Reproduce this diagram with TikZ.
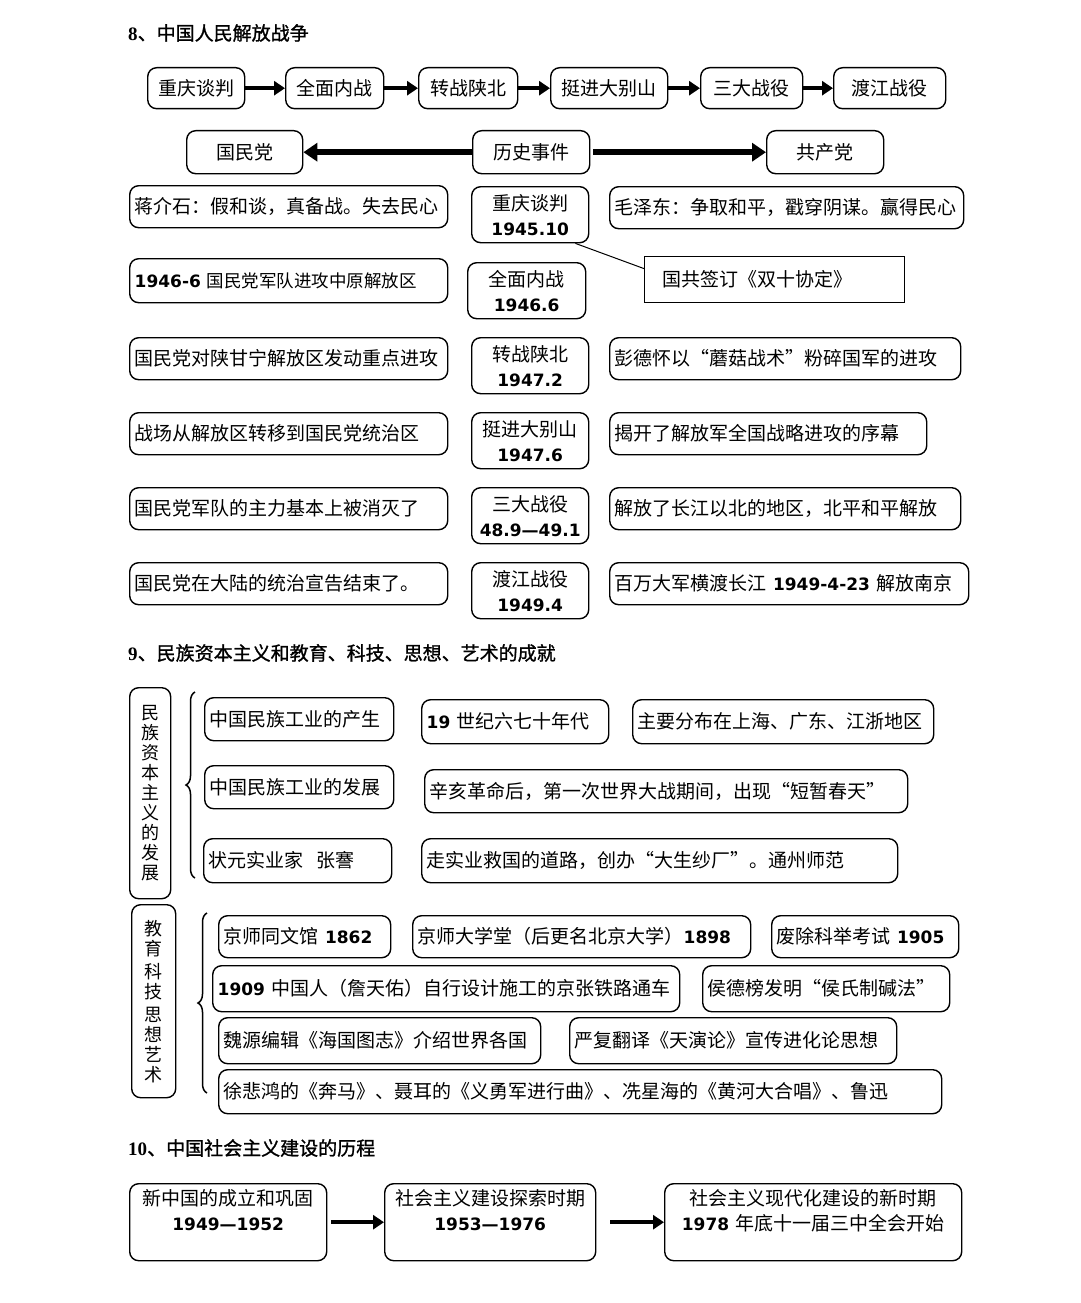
\documentclass[tikz,border=0pt]{standalone}
\usepackage{fontspec}
\setmainfont{Noto Sans CJK SC}
\newfontfamily\numfont{DejaVu Sans}
\newfontfamily\serfont{Liberation Serif}
\newfontfamily\hdfont{Noto Sans CJK SC}[FakeBold=1.2]
\usepackage{tikz}
\usetikzlibrary{arrows.meta, positioning, decorations.pathreplacing}
\newcommand{\yr}[1]{{\numfont\bfseries\fontsize{17}{25}\selectfont #1}}
\newcommand{\secttl}[2]{{\serfont\bfseries #1}{\hdfont #2}}
\tikzset{
  box/.style={draw, line width=1.4pt, rounded corners=9pt, anchor=north west,
    inner xsep=5pt, inner ysep=0pt, align=left, font=\fontsize{19}{25}\selectfont},
  cbox/.style={box, align=center},
  vertbox/.style={box, align=center, inner xsep=0pt, text width=20pt, font=\fontsize{18}{20}\selectfont},
  plainbox/.style={draw, line width=1.2pt, anchor=north west, inner xsep=18pt, inner ysep=0pt,
    align=left, font=\fontsize{19}{25}\selectfont},
  flow/.style={line width=4pt, -{Triangle[length=11pt, width=14pt]}},
  bigflow/.style={line width=5.5pt, -{Triangle[length=14pt, width=18pt]}},
  ttl/.style={anchor=west, inner sep=0pt, font=\fontsize{19}{23}\selectfont},
  brc/.style={decorate, decoration={brace, amplitude=9pt}, line width=1.5pt},
}
\begin{document}
\begin{tikzpicture}[x=1pt, y=-1pt]
    \fill[white] (0,0) rectangle (1080,1303);
    \useasboundingbox (0,0) rectangle (1080,1303);

    \node[ttl] (t8) at (128,33) {\secttl{8}{、中国人民解放战争}};
    \node[cbox, text width=87pt, minimum height=41pt] (s1) at (147,67) {重庆谈判};
    \node[cbox, text width=88pt, minimum height=41pt] (s2) at (285,67) {全面内战};
    \node[cbox, text width=89pt, minimum height=41pt] (s3) at (418,67) {转战陕北};
    \node[cbox, text width=107pt, minimum height=41pt] (s4) at (550,67) {挺进大别山};
    \node[cbox, text width=92pt, minimum height=41pt] (s5) at (700,67) {三大战役};
    \node[cbox, text width=102pt, minimum height=41pt] (s6) at (833,67) {渡江战役};
    \foreach \a/\b in {s1/s2, s2/s3, s3/s4, s4/s5, s5/s6}
        \draw[flow] (\a) -- (\b);

    \node[cbox, text width=106pt, minimum height=43pt] (kmt) at (186,130) {国民党};
    \node[cbox, text width=107pt, minimum height=43pt] (evt) at (472,130) {历史事件};
    \node[cbox, text width=107pt, minimum height=43pt] (cpc) at (766,130) {共产党};
    \draw[bigflow] (evt) -- (kmt);
    \draw[bigflow, shorten <=3pt] (evt) -- (cpc);

    \node[box, text width=308pt, minimum height=42pt] (l1) at (129,185) {蒋介石：假和谈，真备战。失去民心};
    \node[box, text width=308pt, minimum height=44pt, font=\fontsize{17.5}{25}\selectfont] (l2) at (129,258) {\yr{1946-6} 国民党军队进攻中原解放区};
    \node[box, text width=308pt, minimum height=42pt] (l3) at (129,337) {国民党对陕甘宁解放区发动重点进攻};
    \node[box, text width=308pt, minimum height=42pt] (l4) at (129,412) {战场从解放区转移到国民党统治区};
    \node[box, text width=308pt, minimum height=42pt] (l5) at (129,487) {国民党军队的主力基本上被消灭了};
    \node[box, text width=308pt, minimum height=42pt] (l6) at (129,562) {国民党在大陆的统治宣告结束了。};

    \node[cbox, text width=107pt, minimum height=56pt] (c1) at (471,186) {重庆谈判\\\yr{1945.10}};
    \node[cbox, text width=108pt, minimum height=56pt] (c2) at (467,262) {全面内战\\\yr{1946.6}};
    \node[cbox, text width=107pt, minimum height=56pt] (c3) at (471,337) {转战陕北\\\yr{1947.2}};
    \node[cbox, text width=107pt, minimum height=56pt] (c4) at (471,412) {挺进大别山\\\yr{1947.6}};
    \node[cbox, text width=107pt, minimum height=56pt] (c5) at (471,487) {三大战役\\\yr{48.9—49.1}};
    \node[cbox, text width=107pt, minimum height=56pt] (c6) at (471,562) {渡江战役\\\yr{1949.4}};

    \node[box, text width=344pt, minimum height=42pt] (r1) at (609,186) {毛泽东：争取和平，戳穿阴谋。赢得民心};
    \node[plainbox, text width=224pt, minimum height=46pt] (agr) at (644,256) {国共签订《双十协定》};
    \draw[line width=1pt] ([xshift=-14pt]c1.south east) -- ([yshift=11pt]agr.west);
    \node[box, text width=341pt, minimum height=42pt] (r3) at (609,337) {彭德怀以“蘑菇战术”粉碎国军的进攻};
    \node[box, text width=307pt, minimum height=42pt] (r4) at (609,412) {揭开了解放军全国战略进攻的序幕};
    \node[box, text width=341pt, minimum height=42pt] (r5) at (609,487) {解放了长江以北的地区，北平和平解放};
    \node[box, text width=349pt, minimum height=42pt] (r6) at (609,562) {百万大军横渡长江 \yr{1949-4-23} 解放南京};

    \node[ttl] (t9) at (128,653) {\secttl{9}{、民族资本主义和教育、科技、思想、艺术的成就}};
    \node[vertbox, minimum width=41pt, minimum height=211pt] (v1) at (129,687) {民\\族\\资\\本\\主\\义\\的\\发\\展};
    \draw[brc] (195,878) -- (195,692);
    \node[box, text width=179pt, minimum height=43pt] (a1) at (204,697) {中国民族工业的产生};
    \node[box, text width=177pt, minimum height=44pt] (a2) at (421,699) {\yr{19} 世纪六七十年代};
    \node[box, text width=291pt, minimum height=44pt] (a3) at (632,699) {主要分布在上海、广东、江浙地区};
    \node[box, text width=179pt, minimum height=43pt] (b1) at (204,765) {中国民族工业的发展};
    \node[box, text width=473pt, minimum height=43pt] (b2) at (424,769) {辛亥革命后，第一次世界大战期间，出现“短暂春天”};
    \node[box, text width=178pt, minimum height=44pt] (z1) at (203,838) {状元实业家\ \ 张謇};
    \node[box, text width=466pt, minimum height=44pt] (z2) at (421,838) {走实业救国的道路，创办“大生纱厂”。通州师范};

    \node[vertbox, minimum width=44pt, minimum height=193pt] (v2) at (131,904) {教\\育\\[3pt]科\\技\\[3pt]思\\想\\艺\\术};
    \draw[brc] (207,1093) -- (207,913);
    \node[box, text width=162pt, minimum height=42pt] (e1) at (218,915) {京师同文馆 \yr{1862}};
    \node[box, text width=328pt, minimum height=42pt] (e2) at (412,915) {京师大学堂（后更名北京大学）\yr{1898}};
    \node[box, text width=177pt, minimum height=42pt] (e3) at (771,915) {废除科举考试 \yr{1905}};
    \node[box, text width=457pt, minimum height=46pt] (e4) at (212,965) {\yr{1909} 中国人（詹天佑）自行设计施工的京张铁路通车};
    \node[box, text width=237pt, minimum height=46pt] (e5) at (702,965) {侯德榜发明“侯氏制碱法”};
    \node[box, text width=312pt, minimum height=46pt] (e6) at (218,1017) {魏源编辑《海国图志》介绍世界各国};
    \node[box, text width=317pt, minimum height=46pt] (e7) at (569,1017) {严复翻译《天演论》宣传进化论思想};
    \node[box, text width=713pt, minimum height=44pt] (e8) at (218,1069) {徐悲鸿的《奔马》、聂耳的《义勇军进行曲》、冼星海的《黄河大合唱》、鲁迅};

    \node[ttl] (t10) at (128,1148) {\secttl{10}{、中国社会主义建设的历程}};
    \node[cbox, text width=187pt, minimum height=77pt] (p1) at (129,1183) {新中国的成立和巩固\\\yr{1949—1952}\rule[-25pt]{0pt}{0pt}};
    \node[cbox, text width=201pt, minimum height=77pt] (p2) at (384,1183) {社会主义建设探索时期\\\yr{1953—1976}\rule[-25pt]{0pt}{0pt}};
    \node[cbox, text width=287pt, minimum height=77pt] (p3) at (664,1183) {社会主义现代化建设的新时期\\\yr{1978} 年底十一届三中全会开始\rule[-25pt]{0pt}{0pt}};
    \draw[flow, shorten <=4pt] (p1) -- (p2);
    \draw[flow, shorten <=14pt] (p2) -- (p3);
\end{tikzpicture}
\end{document}
